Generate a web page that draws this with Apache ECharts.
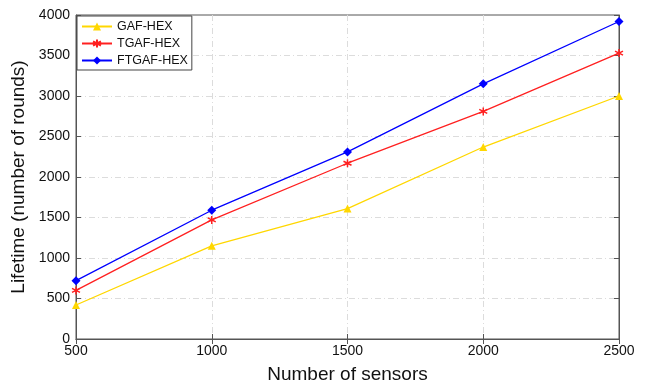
<!DOCTYPE html>
<html><head><meta charset="utf-8">
<script src="https://cdn.jsdelivr.net/npm/echarts@6/dist/echarts.min.js"></script>
<style>html,body{margin:0;padding:0;background:#fff}#c{width:646px;height:383px}</style>
</head><body><div id="c"></div>
<script>
const sensors = [500, 1000, 1500, 2000, 2500];
const gafHex = [420, 1150, 1610, 2370, 3000];
const tgafHex = [600, 1470, 2170, 2810, 3530];
const ftgafHex = [720, 1590, 2310, 3150, 3920];
const seriesNames = ['GAF-HEX', 'TGAF-HEX', 'FTGAF-HEX'];

const chart = echarts.init(document.getElementById('c'), null, {renderer: 'canvas'});
const font = 'Arial, "Liberation Sans", sans-serif';
const gridLine = {show: true, showMinLine: false, showMaxLine: false, lineStyle: {color: '#dcdcdc', width: 1, type: [6, 3, 1, 3]}};
const asterisk = 'path://M0,-10L0,10M-8.66,-5L8.66,5M-8.66,5L8.66,-5';
const plain = v => String(v);
function pairs(v){ return sensors.map((s,i)=>[s, v[i]]); }
chart.setOption({
  animation: false,
  backgroundColor: '#fff',
  grid: {left: 76, right: 27, top: 15, bottom: 44, containLabel: false, outerBoundsMode: 'none',
         show: true, borderColor: '#555', borderWidth: 1},
  legend: {
    orient: 'vertical', left: 77, top: 16, itemWidth: 30, itemHeight: 10, itemGap: 4,
    padding: [4, 4, 3, 4],
    backgroundColor: '#fff', borderColor: '#444', borderWidth: 1, borderRadius: 0,
    textStyle: {fontFamily: font, fontSize: 12.5, color: '#111'},
    data: seriesNames
  },
  xAxis: [{
    type: 'value', min: 500, max: 2500, interval: 500,
    name: 'Number of sensors', nameLocation: 'middle', nameGap: 26,
    nameTextStyle: {fontFamily: font, fontSize: 19, color: '#111'},
    axisLine: {show: true, lineStyle: {color: '#555'}},
    axisTick: {show: true, inside: true, length: 5, lineStyle: {color: '#555'}},
    axisLabel: {fontFamily: font, fontSize: 14, color: '#111', margin: 5, formatter: plain},
    splitLine: gridLine
  }, {
    type: 'value', min: 500, max: 2500, interval: 500, position: 'top',
    axisLine: {show: true, lineStyle: {color: '#555'}},
    axisTick: {show: true, inside: true, length: 5, lineStyle: {color: '#555'}},
    axisLabel: {show: false}, splitLine: {show: false}
  }],
  yAxis: [{
    type: 'value', min: 0, max: 4000, interval: 500,
    name: 'Lifetime (number of rounds)', nameLocation: 'middle', nameGap: 46,
    nameTextStyle: {fontFamily: font, fontSize: 19, color: '#111'},
    axisLine: {show: true, lineStyle: {color: '#555'}},
    axisTick: {show: true, inside: true, length: 5, lineStyle: {color: '#555'}},
    axisLabel: {fontFamily: font, fontSize: 14, color: '#111', margin: 6, formatter: plain},
    splitLine: gridLine
  }, {
    type: 'value', min: 0, max: 4000, interval: 500, position: 'right',
    axisLine: {show: true, lineStyle: {color: '#555'}},
    axisTick: {show: true, inside: true, length: 5, lineStyle: {color: '#555'}},
    axisLabel: {show: false}, splitLine: {show: false}
  }],
  series: [{
    name: seriesNames[0], type: 'line', data: pairs(gafHex),
    symbol: 'triangle', symbolSize: 8, color: '#ffd700',
    lineStyle: {width: 1.3, color: '#ffd700'}, itemStyle: {color: '#ffd700'}
  }, {
    name: seriesNames[1], type: 'line', data: pairs(tgafHex),
    symbol: asterisk, symbolSize: 8, color: '#ff2020',
    lineStyle: {width: 1.3, color: '#ff2020'},
    itemStyle: {color: '#ff2020', borderColor: '#ff2020', borderWidth: 1.5}
  }, {
    name: seriesNames[2], type: 'line', data: pairs(ftgafHex),
    symbol: 'diamond', symbolSize: 9, color: '#0000ff',
    lineStyle: {width: 1.3, color: '#0000ff'}, itemStyle: {color: '#0000ff'}
  }]
});
</script></body></html>
